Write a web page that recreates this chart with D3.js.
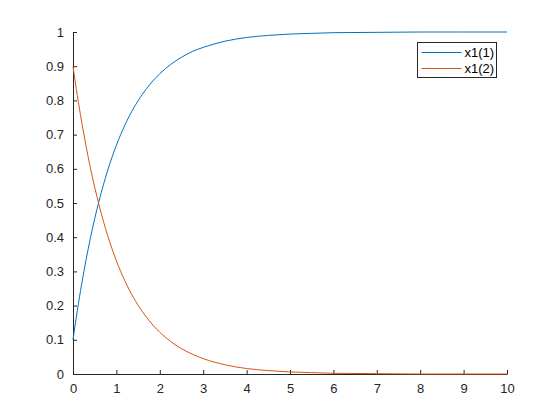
<!DOCTYPE html>
<html>
<head>
<meta charset="utf-8">
<script src="https://cdn.jsdelivr.net/npm/d3@7"></script>
<style>
  body { margin: 0; background: #fff; }
  svg { display: block; font-family: "Liberation Sans", Arial, sans-serif; }
</style>
</head>
<body>
<svg id="chart" width="560" height="420"></svg>
<script>
// values
var tValues = [0, 0.1, 0.2, 0.3, 0.4, 0.5, 0.6, 0.7, 0.8, 0.9, 1.0, 1.2, 1.4, 1.6, 1.8, 2.0,
    2.25, 2.5, 2.75, 3.0, 3.5, 4.0, 4.5, 5.0, 5.5, 6, 7, 8, 9, 10];
var x1First = [0.100, 0.186, 0.263, 0.333, 0.397, 0.454, 0.506, 0.553, 0.596, 0.634, 0.669,
    0.729, 0.778, 0.818, 0.851, 0.878, 0.905, 0.926, 0.943, 0.955, 0.973, 0.984, 0.990,
    0.994, 0.996, 0.998, 0.999, 1.000, 1.000, 1.000];
var x1Second = [0.900, 0.814, 0.737, 0.667, 0.603, 0.546, 0.494, 0.447, 0.404, 0.366, 0.331,
    0.271, 0.222, 0.182, 0.149, 0.122, 0.095, 0.074, 0.058, 0.045, 0.027, 0.016, 0.010,
    0.006, 0.004, 0.002, 0.001, 0.000, 0.000, 0.000];
var seriesNames = ["x1(1)", "x1(2)"];
var seriesColors = ["#0072BD", "#D95319"];
var xTicks = [0, 1, 2, 3, 4, 5, 6, 7, 8, 9, 10];
var yTicks = [0, 0.1, 0.2, 0.3, 0.4, 0.5, 0.6, 0.7, 0.8, 0.9, 1];

var svg = d3.select("#chart");
var plotLeft = 73, plotRight = 507, plotTop = 32, plotBottom = 374;

var x = d3.scaleLinear().domain([0, 10]).range([plotLeft, plotRight]);
var y = d3.scaleLinear().domain([0, 1]).range([plotBottom, plotTop]);

var axisColor = "#262626";

var xAxis = svg.append("g").attr("transform", "translate(0," + plotBottom + ")")
    .call(d3.axisBottom(x).tickValues(xTicks).tickSizeInner(-4).tickSizeOuter(0).tickPadding(10).tickFormat(d3.format("d")));
var yAxis = svg.append("g").attr("transform", "translate(" + plotLeft + ",0)")
    .call(d3.axisLeft(y).tickValues(yTicks).tickSizeInner(-4).tickSizeOuter(0).tickPadding(9).tickFormat(function(d) { return d3.format("~g")(d); }));

[xAxis, yAxis].forEach(function(a) {
    a.selectAll("path").attr("stroke", axisColor);
    a.selectAll("line").attr("stroke", axisColor);
    a.selectAll("text").attr("fill", axisColor).style("font-size", "13px");
});

var line = d3.line()
    .x(function(d) { return x(d[0]); })
    .y(function(d) { return y(d[1]); })
    .curve(d3.curveMonotoneX);

var series = [x1First, x1Second];
for (var i = 0; i < series.length; i++) {
    var pts = tValues.map(function(t, j) { return [t, series[i][j]]; });
    svg.append("path").datum(pts)
        .attr("d", line)
        .attr("fill", "none")
        .attr("stroke", seriesColors[i])
        .attr("stroke-width", 1);
}

// legend
var legend = svg.append("g").attr("transform", "translate(417.5,42.5)");
legend.append("rect").attr("width", 79).attr("height", 35)
    .attr("fill", "#fff").attr("stroke", axisColor).attr("stroke-width", 1);
for (var k = 0; k < seriesNames.length; k++) {
    var ly = 10 + k * 16;
    legend.append("line").attr("x1", 4).attr("x2", 44).attr("y1", ly).attr("y2", ly)
        .attr("stroke", seriesColors[k]).attr("stroke-width", 1);
    legend.append("text").attr("x", 47).attr("y", ly).attr("dy", "0.35em")
        .style("font-size", "13px").attr("fill", "#000").text(seriesNames[k]);
}
</script>
</body>
</html>
